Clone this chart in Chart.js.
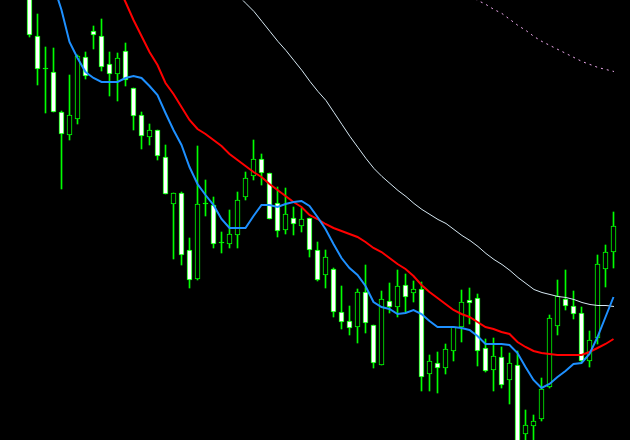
<!DOCTYPE html>
<html>
<head>
<meta charset="utf-8">
<script src="https://cdn.jsdelivr.net/npm/chart.js@4/dist/chart.umd.min.js"></script>
<style>
  html, body { margin: 0; padding: 0; background: #000; }
  #wrap { width: 630px; height: 440px; position: relative; background: #000; }
  canvas { display: block; }
</style>
</head>
<body>
<div id="wrap"><canvas id="c" width="630" height="440"></canvas></div>
<script>
// Bar index of each visible candle
const bars = Array.from({length: 74}, (_, i) => i);

// OHLC prices (arbitrary price units)
const openP  = [515,464,431,428,388,365,381,443,469,464,436,426,449,412,385,363,370,343,296,307,
                250,221,296,295,257,256,265,303,324,341,327,297,270,282,274,282,250,225,231,188,
                179,173,208,175,135,199,193,215,207,211,126,137,132,149,173,200,202,152,130,143,
                120,135,66,74,81,113,174,201,194,187,139,162,231,248];
const highP  = [525,486,453,452,389,425,445,448,474,481,448,447,457,412,388,376,370,355,307,308,
                262,354,320,303,268,290,308,328,360,346,327,313,312,293,292,282,258,250,232,214,
                194,211,235,175,209,217,230,226,219,218,145,148,156,173,210,212,206,161,162,153,
                147,149,90,85,122,185,220,230,209,193,169,245,255,288];
const lowP   = [463,415,387,388,311,360,376,421,451,429,404,399,414,370,351,355,340,306,241,235,
                212,220,284,252,247,252,252,300,320,315,281,263,266,265,268,243,219,212,183,171,
                165,157,167,132,135,187,183,188,198,109,109,107,126,139,158,176,134,128,109,112,
                96,40,40,40,79,112,165,190,181,137,133,156,213,232];
const closeP = [465,431,431,388,366,385,444,424,465,433,426,442,420,384,364,370,344,306,307,245,
                220,296,297,256,257,266,300,322,341,327,281,269,286,276,281,250,220,243,188,178,
                172,208,177,137,201,193,214,203,211,123,139,132,151,173,198,197,149,129,144,115,
                137,45,75,79,111,182,204,194,186,139,160,236,248,274];

// Moving averages (values per bar index, starting at the given bar)
const fastMAStart = 2;
const fastMA = [545,515,490,458,442,428,422,418,418,418,422,424,422,414,405,387,370,355,333,316,
                305,295,281,272,272,272,284,295,295,293,296,298,299,294,283,271,256,242,232,225,
                214,198,193,191,186,187,190,186,179,173,173,173,172,170,164,156,156,156,155,147,
                133,120,112,116,123,129,136,137,146,163,183,203];
const midMAStart = 10;
const midMA  = [533,515,498,480,464,448,435,417,406,393,380,371,366,360,354,346,340,334,328,323,
                316,310,304,298,293,285,281,276,272,269,266,263,258,252,248,242,236,231,224,215,
                208,202,196,190,186,183,178,173,171,168,166,158,153,149,147,146,145,145,145,145,
                148,152,156,161];
const slowMAStart = 25;
const slowMA = [514,505,497,489,479,469,459,450,440,430,419,409,400,388,376,364,353,342,332,324,
                317,310,304,297,291,286,281,277,271,265,260,254,247,241,236,230,223,217,211,208,
                206,204,203,201,198,196,195,195,194];
const longMAStart = 55;
const longMA = [504,500,496,491,487,481,475,470,464,459,455,451,447,443,439,436,433,431,429];

const GREEN = '#00ff00';

const wickData = bars.map(i => ({x: i, y: [lowP[i], highP[i]]}));
const bodyData = bars.map(i => {
  const lo = Math.min(openP[i], closeP[i]);
  const hi = Math.max(openP[i], closeP[i]);
  return {x: i, y: [lo, hi === lo ? hi + 1 : hi]};
});
const bodyFill = bars.map(i => {
  const d = Math.abs(openP[i] - closeP[i]);
  if (d < 2) return GREEN;
  return closeP[i] < openP[i] ? '#ffffff' : '#000000';
});
const toPts = (arr, start) => arr.map((v, j) => ({x: start + j, y: v}));

// Draw 1px lines on the pixel grid so they stay crisp
const crispLines = {
  id: 'crispLines',
  beforeDatasetDraw(chart, args) {
    const ds = chart.data.datasets[args.index];
    if (ds.crisp) { chart.ctx.save(); chart.ctx.translate(0.5, 0.5); }
  },
  afterDatasetDraw(chart, args) {
    const ds = chart.data.datasets[args.index];
    if (ds.crisp) { chart.ctx.restore(); }
  }
};

new Chart(document.getElementById('c'), {
  type: 'bar',
  data: {
    datasets: [
      { type: 'line', data: toPts(fastMA, fastMAStart), borderColor: '#1e90ff', borderWidth: 2,
        pointRadius: 0, tension: 0, fill: false },
      { type: 'line', data: toPts(midMA, midMAStart), borderColor: '#ff0000', borderWidth: 2,
        pointRadius: 0, tension: 0, fill: false },
      { type: 'line', data: toPts(slowMA, slowMAStart), borderColor: '#d6e8f2', borderWidth: 1,
        pointRadius: 0, tension: 0, fill: false, crisp: true },
      { type: 'line', data: toPts(longMA, longMAStart), borderColor: '#eeaaee', borderWidth: 1,
        borderDash: [2, 4], pointRadius: 0, tension: 0, fill: false, crisp: true },
      { type: 'bar', data: bodyData, backgroundColor: bodyFill, borderColor: GREEN, borderWidth: 1,
        borderSkipped: false, barThickness: 5, grouped: false },
      { type: 'bar', data: wickData, backgroundColor: GREEN, borderWidth: 0,
        barThickness: 1, grouped: false }
    ]
  },
  options: {
    responsive: false,
    animation: false,
    events: [],
    layout: { padding: 0 },
    plugins: { legend: { display: false }, tooltip: { enabled: false }, title: { display: false } },
    scales: {
      x: { type: 'linear', display: false, min: -3.6875, max: 75.0625, offset: false,
           grid: { display: false } },
      y: { type: 'linear', display: false, min: 60, max: 500, grid: { display: false } }
    }
  },
  plugins: [crispLines]
});
</script>
</body>
</html>
